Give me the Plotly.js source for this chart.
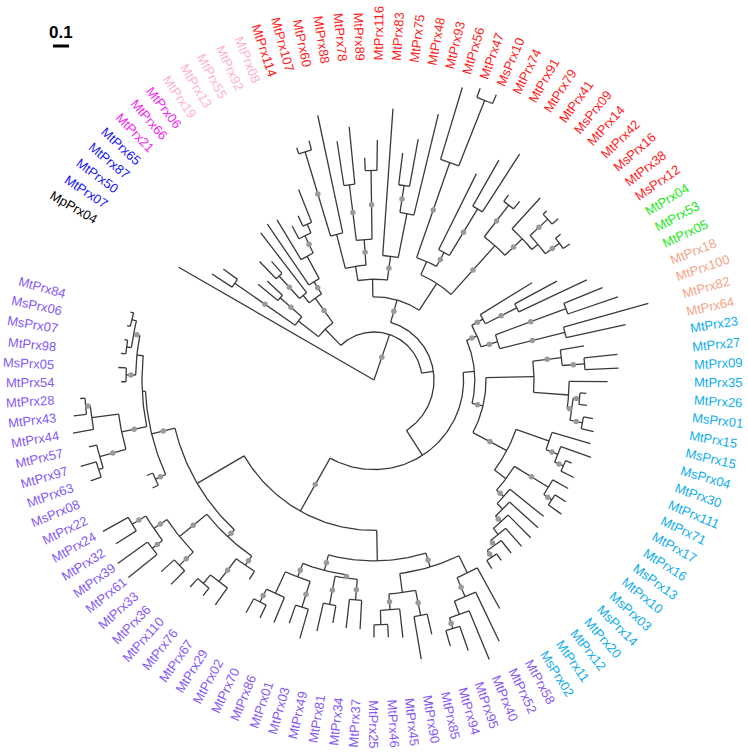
<!DOCTYPE html>
<html><head><meta charset="utf-8">
<script src="https://cdn.plot.ly/plotly-3.0.1.min.js"></script>
<style>html,body{margin:0;padding:0;background:#fff;}#chart{width:748px;height:753px;}</style>
</head><body><div id="chart"></div>
<script>
// ---------------- DATA ----------------
const leaves = [
 "MpPrx04",
 "MtPrx07","MtPrx50","MtPrx87","MtPrx65",
 "MtPrx21","MtPrx66","MtPrx06",
 "MtPrx19","MtPrx13","MtPrx55","MtPrx92","MtPrx08",
 "MtPrx114","MtPrx107","MtPrx60","MtPrx88","MtPrx78","MtPrx89","MtPrx116","MtPrx83","MtPrx75","MtPrx48","MtPrx93","MtPrx56","MtPrx47","MsPrx10","MtPrx74","MtPrx91","MtPrx79","MtPrx41","MsPrx09","MtPrx14","MtPrx42","MsPrx16","MtPrx38","MsPrx12",
 "MtPrx04","MtPrx53","MtPrx05",
 "MtPrx18","MtPrx100","MtPrx82","MtPrx64",
 "MtPrx23","MtPrx27","MtPrx09","MtPrx35","MtPrx26","MsPrx01","MtPrx15","MsPrx15","MsPrx04","MtPrx30","MtPrx111","MtPrx71","MtPrx17","MtPrx16","MsPrx13","MtPrx10","MsPrx03","MsPrx14","MtPrx20","MtPrx12","MtPrx11","MsPrx02",
 "MtPrx58","MtPrx52","MtPrx40","MtPrx95","MtPrx94","MtPrx85","MtPrx90","MtPrx45","MtPrx46","MtPrx25","MtPrx37","MtPrx34","MtPrx81","MtPrx49","MtPrx03","MtPrx01","MtPrx86","MtPrx70","MtPrx02","MtPrx29","MtPrx67","MtPrx76","MtPrx110","MtPrx36","MtPrx33","MtPrx61","MtPrx39","MtPrx32","MtPrx24","MtPrx22","MsPrx08","MtPrx63","MtPrx97","MtPrx57","MtPrx44","MtPrx43","MtPrx28","MtPrx54","MsPrx05","MtPrx98","MsPrx07","MsPrx06","MtPrx84"
];
// distance of each tip from the root (substitutions / site)
const tipDepth = [
 1.41,
 1.21,1.17,0.94,0.91,
 1.03,0.98,1.16,
 1.18,1.17,1.09,1.13,1.28,
 1.53,1.55,1.69,1.51,1.59,1.39,1.50,1.70,1.43,1.53,1.71,1.91,1.94,1.94,1.44,1.58,1.68,1.43,1.44,1.54,1.51,1.53,1.48,1.49,
 1.16,1.30,1.47,
 1.54,1.61,1.78,1.61,
 1.33,1.53,1.53,1.46,1.33,1.34,1.39,1.41,1.41,1.44,1.34,1.39,1.39,1.42,1.44,1.36,1.38,1.39,1.39,1.38,1.38,1.39,
 1.63,1.81,1.89,1.79,1.73,1.63,1.77,1.62,1.61,1.61,1.56,1.56,1.54,1.61,1.68,1.61,1.64,1.65,1.66,1.47,1.72,1.72,1.73,1.80,1.79,1.97,1.97,1.91,1.94,1.54,1.54,1.88,1.91,1.83,1.91,1.89,1.84,1.58,1.60,1.59,1.58,1.58,1.58
];
// group membership (counts follow the leaf order above)
const groupNames = ["outgroup","I","II","III","IV","V","VI","VII","VIII"];
const groupSizes = [1,4,3,5,24,3,4,22,43];
// topology: ")depth" = internal node distance from root, "*" = supported node
const topology =
 "(MpPrx04," +
  "(" +
   "(((MtPrx07,MtPrx50)*1.06,(MtPrx87,MtPrx65)*0.78)0.60," +
   "(((MtPrx21,MtPrx66)*0.88,MtPrx06)0.69,(MtPrx19,(MtPrx13,(MtPrx55,(MtPrx92,MtPrx08)1.06)*1.00)0.88)*0.72)*0.63)0.44," +
   "(" +
    "((" +
      "(((MtPrx114,MtPrx107)*1.49,MtPrx60)0.94,((MtPrx88,MtPrx78)*1.23,(MtPrx89,MtPrx116)*1.31)*0.88)0.72," +
      "(MtPrx83,((MtPrx75,MtPrx48)*1.23,MtPrx93)1.06)*0.78" +
    ")0.63," +
    "(" +
      "((MtPrx56,(MtPrx47,MsPrx10)1.88)*1.44,(MtPrx74,(MtPrx91,MtPrx79)*1.25)*0.91)0.81," +
      "((MtPrx41,MsPrx09)*1.38,(MtPrx14,((MtPrx42,MsPrx16)*1.48,(MtPrx38,MsPrx12)*1.44)1.33)*1.28)*1.13" +
    ")0.72)*0.52," +
    "(" +
     "(" +
      "((MtPrx04,(MtPrx53,MtPrx05)*1.00)*0.78,((MtPrx18,MtPrx100)*1.28,(MtPrx82,MtPrx64)*1.23)*0.81)*0.70," +
      "(" +
       "((MtPrx23,(MtPrx27,MtPrx09)*1.32)*1.18,(MtPrx35,((MtPrx26,MsPrx01)*1.29,(MtPrx15,MsPrx15)*1.33)*1.25)1.22)1.00," +
       "((MsPrx04,(MtPrx30,(MtPrx111,MtPrx71)*1.30)*1.24)1.16,((MtPrx17,(MtPrx16,MsPrx13)*1.34)*1.28,(MtPrx10,(MsPrx03,(MsPrx14,(MtPrx20,(MtPrx12,(MtPrx11,MsPrx02)*1.33)*1.28)1.24)*1.19)1.14)*1.09)1.03)*0.94" +
      ")*0.70" +
     ")0.63," +
     "(" +
      "(" +
       "((MtPrx58,(MtPrx52,(MtPrx40,(MtPrx95,MtPrx94)*1.63)1.56)*1.47)1.34,((MtPrx85,MtPrx90)*1.50,(MtPrx45,(MtPrx46,MtPrx25)1.53)*1.44)1.34)*1.22," +
       "(((MtPrx37,MtPrx34)*1.38,(MtPrx81,MtPrx49)*1.43)*1.25,((MtPrx03,MtPrx01)*1.49,(MtPrx86,(MtPrx70,MtPrx02)*1.56)1.47)*1.32)*1.23" +
      ")1.13," +
      "(" +
       "((MtPrx29,(MtPrx67,(MtPrx76,MtPrx110)1.66)*1.59)*1.41,((MtPrx36,MtPrx33)*1.68,((MtPrx61,MtPrx39)*1.74,(MtPrx32,MtPrx24)*1.76)*1.66)*1.56)*1.34," +
       "((MtPrx22,MsPrx08)*1.50,((((MtPrx63,MtPrx97)1.81,MtPrx57)*1.78,(MtPrx44,(MtPrx43,MtPrx28)*1.81)1.78)*1.61,((MtPrx54,MsPrx05)*1.55,((MtPrx98,MsPrx07)1.56,(MsPrx06,MtPrx84)1.56)*1.53)1.49)1.45)*1.43" +
      ")1.28" +
     ")*0.94" +
    ")0.56" +
   ")0.375" +
  ")*0.30" +
 ")0";
const scaleBarValue = 0.1;

// ---------------- STYLE ----------------
const groupColors = ["#000000","#1818ee","#f029f0","#ffb3c9","#ff1c1c","#22e822","#f5a488","#10aded","#8659f2"];
const PX = 160;                 // pixels per substitution unit
const CX = 374, CY = 380;       // tree centre in pixels
const W = 748, H = 753;
const startAngle = 150, stepAngle = 3.2;  // degrees
const labelR = 2.0;
const fontFamily = "'Liberation Sans', Arial, sans-serif";
const fontSize = 13;

// ---------------- BUILD ----------------
function parseTree(s){
  let i = 0;
  function node(){
    const n = {children: [], support: false};
    if (s[i] === '('){
      i++;
      n.children.push(node());
      while (s[i] === ','){ i++; n.children.push(node()); }
      i++; // ')'
      if (s[i] === '*'){ n.support = true; i++; }
      const m = /^[0-9.]+/.exec(s.slice(i));
      n.depth = parseFloat(m[0]); i += m[0].length;
    } else {
      const m = /^[A-Za-z0-9]+/.exec(s.slice(i));
      n.name = m[0]; i += m[0].length;
    }
    return n;
  }
  return node();
}
const tree = parseTree(topology);
const leafAngle = leaves.map((_, k) => startAngle - stepAngle * k);
function layout(n){
  if (!n.children.length){
    const k = leaves.indexOf(n.name);
    n.angle = leafAngle[k]; n.depth = tipDepth[k];
  } else {
    n.children.forEach(layout);
    n.angle = (n.children[0].angle + n.children[n.children.length - 1].angle) / 2;
  }
}
layout(tree);
const rad = d => d * Math.PI / 180;
const lx = [], ly = [], dx = [], dy = [];
function draw(n, parentDepth){
  if (parentDepth !== null){
    const a = rad(n.angle);
    lx.push(parentDepth * Math.cos(a), n.depth * Math.cos(a), null);
    ly.push(parentDepth * Math.sin(a), n.depth * Math.sin(a), null);
    if (n.support && n.children.length){
      const r = (parentDepth + n.depth) / 2;
      dx.push(r * Math.cos(a)); dy.push(r * Math.sin(a));
    }
  }
  if (n.children.length){
    const a0 = n.children[0].angle, a1 = n.children[n.children.length - 1].angle;
    const steps = Math.max(2, Math.ceil(Math.abs(a1 - a0)));
    for (let s = 0; s <= steps; s++){
      const a = rad(a0 + (a1 - a0) * s / steps);
      lx.push(n.depth * Math.cos(a)); ly.push(n.depth * Math.sin(a));
    }
    lx.push(null); ly.push(null);
    n.children.forEach(c => draw(c, n.depth));
  }
}
draw(tree, null);

// label colours from groups
const leafColor = [];
groupSizes.forEach((cnt, g) => { for (let k = 0; k < cnt; k++) leafColor.push(groupColors[g]); });

const ctx = document.createElement('canvas').getContext('2d');
ctx.font = fontSize + "px " + fontFamily;
const annotations = leaves.map((name, k) => {
  const th = leafAngle[k];
  const w = ctx.measureText(name).width / PX;
  const r = labelR + w / 2;
  const a = rad(th);
  let norm = ((th % 360) + 360) % 360;
  const left = norm > 90 && norm < 270;
  return {
    x: r * Math.cos(a), y: r * Math.sin(a), xref: 'x', yref: 'y',
    text: name, showarrow: false, xanchor: 'center', yanchor: 'middle',
    textangle: left ? 180 - th : -th,
    font: {family: fontFamily, size: fontSize, color: leafColor[k]}
  };
});
// scale bar
const sbX0 = (53 - CX) / PX, sbY = (CY - 46) / PX;
annotations.push({x: sbX0 + scaleBarValue / 2, y: (CY - 32) / PX, xref: 'x', yref: 'y', text: '<b>' + scaleBarValue + '</b>',
  showarrow: false, xanchor: 'center', yanchor: 'middle', font: {family: fontFamily, size: 17, color: '#000'}});

const traces = [
  {type: 'scatter', mode: 'lines', x: lx, y: ly, line: {color: '#3a3a3a', width: 1.3}, hoverinfo: 'skip', connectgaps: false},
  {type: 'scatter', mode: 'markers', x: dx, y: dy, marker: {color: '#9a9a9a', size: 5.5}, hoverinfo: 'skip'}
];
const lay = {
  width: W, height: H, margin: {l: 0, r: 0, t: 0, b: 0}, showlegend: false,
  paper_bgcolor: '#fff', plot_bgcolor: '#fff',
  xaxis: {range: [-CX / PX, (W - CX) / PX], visible: false, fixedrange: true},
  yaxis: {range: [-(H - CY) / PX, CY / PX], visible: false, fixedrange: true},
  annotations: annotations,
  shapes: [{type: 'line', xref: 'x', yref: 'y', x0: sbX0, x1: sbX0 + scaleBarValue, y0: sbY, y1: sbY, line: {color: '#000', width: 3}}]
};
Plotly.newPlot('chart', traces, lay, {staticPlot: true, displayModeBar: false});
</script></body></html>
